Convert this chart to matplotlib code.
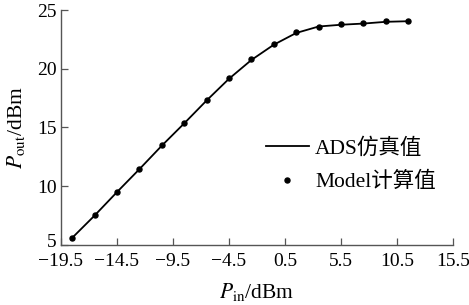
import matplotlib
matplotlib.use('Agg')
import matplotlib.pyplot as plt
from matplotlib.transforms import ScaledTranslation

plt.rcParams['font.family'] = ['Liberation Serif', 'Noto Sans CJK SC']
plt.rcParams['mathtext.fontset'] = 'stix'

# input power (dBm) and output power (dBm)
p_in = [-18.5, -16.5, -14.5, -12.5, -10.5, -8.5, -6.5, -4.5, -2.5,
        -0.5, 1.5, 3.5, 5.5, 7.5, 9.5, 11.5]
ads_out = [5.6, 7.5, 9.5, 11.45, 13.45, 15.35, 17.3, 19.15, 20.75,
           22.05, 23.05, 23.6, 23.75, 23.85, 24.0, 24.05]
model_out = [5.6, 7.55, 9.5, 11.45, 13.5, 15.4, 17.3, 19.2, 20.8,
             22.1, 23.1, 23.6, 23.8, 23.9, 24.05, 24.1]
x_ticks = [-19.5, -14.5, -9.5, -4.5, 0.5, 5.5, 10.5, 15.5]
y_ticks = [5, 10, 15, 20, 25]

fig = plt.figure(figsize=(4.69, 3.05), dpi=100)
ax = fig.add_axes([0.130, 0.197, 0.836, 0.770])

ax.plot(p_in, ads_out, color='black', lw=1.3, label='ADS仿真值')
ax.plot(p_in, model_out, 'o', color='black', ms=3.6, ls='none', label='Model计算值')

ax.set_xlim(-19.5, 15.5)
ax.set_ylim(5, 25)
ax.set_xticks(x_ticks)
ax.set_xticklabels(['\u221219.5', '\u221214.5', '\u22129.5', '\u22124.5',
                    '0.5', '5.5', '10.5', '15.5'])
ax.set_yticks(y_ticks)
ax.tick_params(direction='in', length=5, width=0.9, color='#555555',
               labelsize=14)
ax.tick_params(axis='x', pad=6)
ax.tick_params(axis='y', pad=3)

# lift the lowest y label a little so it clears the x labels
lab5 = ax.get_yticklabels()[0]
lab5.set_transform(lab5.get_transform() + ScaledTranslation(0, 3 / 72, fig.dpi_scale_trans))

for s in ['top', 'right']:
    ax.spines[s].set_visible(False)
for s in ['left', 'bottom']:
    ax.spines[s].set_color('#555555')
    ax.spines[s].set_linewidth(1.0)

ax.set_xlabel(r'$P_{\mathrm{in}}$/dBm', fontsize=15.5, labelpad=8)
ax.set_ylabel(r'$P_{\mathrm{out}}$/dBm', fontsize=15.5, labelpad=7)

ax.legend(loc='upper left', bbox_to_anchor=(0.5, 0.49), frameon=False,
          fontsize=15.5, handlelength=2.0, handletextpad=0.3,
          labelspacing=0.6, borderaxespad=0)

fig.savefig('out.png', dpi=100)
